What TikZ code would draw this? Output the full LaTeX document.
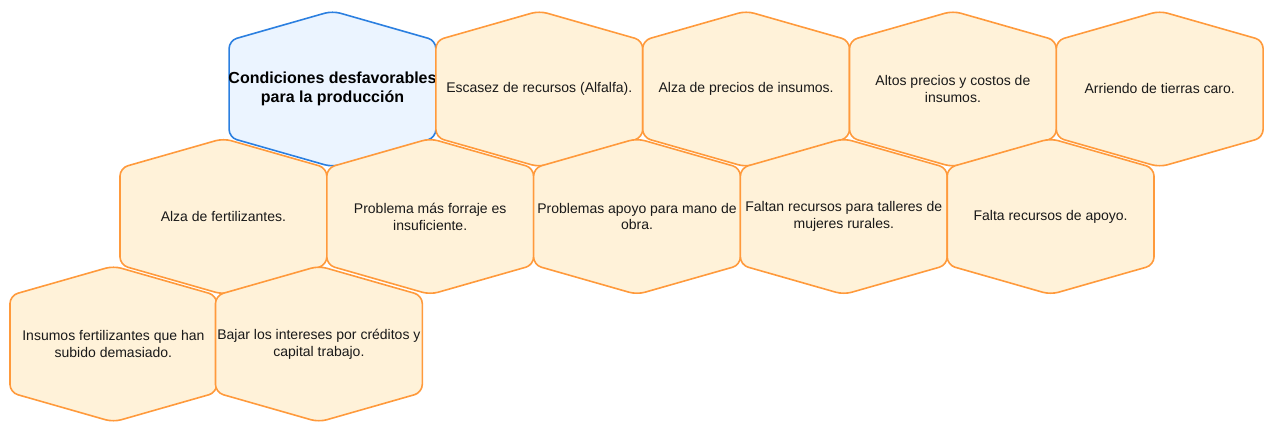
\documentclass[tikz,border=0pt]{standalone}
\usepackage{fontspec}
\setmainfont{Liberation Sans}

\definecolor{hexfill}{HTML}{FFF2D9}
\definecolor{hexline}{HTML}{FF9A3C}
\definecolor{titlefill}{HTML}{EBF4FF}
\definecolor{titleline}{HTML}{2B7FE0}

\tikzset{
  hexcell/.style={draw=hexline, fill=hexfill, line width=1.2pt, rounded corners=6pt},
  hexblue/.style={draw=titleline, fill=titlefill, line width=1.2pt, rounded corners=6pt},
  hextext/.style={align=center, inner sep=0pt, text=black!90, font=\fontsize{10.5}{12.75}\selectfont},
  hextitle/.style={align=center, inner sep=0pt, text=black, font=\bfseries\fontsize{12}{14.4}\selectfont}
}

% hexagon with a point up and down, centre (#1,#2)
\newcommand{\hexat}[3]{%
  \draw[#3] (#1,#2-78) -- (#1+103.4,#2-48.5) -- (#1+103.4,#2+48.5) -- (#1,#2+78)
    -- (#1-103.4,#2+48.5) -- (#1-103.4,#2-48.5) -- cycle;}

\begin{document}
\begin{tikzpicture}[x=0.75pt, y=-0.75pt]
    \useasboundingbox (0,0) rectangle (1265,423);

    % top row
    \hexat{332.5}{89}{hexblue}
    \node[hextitle] (cond) at (332.5,89) {Condiciones desfavorables\\para la producción};
    \foreach \i/\nm/\txt in {1/escasez/{Escasez de recursos (Alfalfa).},
        2/precios/{Alza de precios de insumos.},
        3/altos/{Altos precios y costos de\\insumos.},
        4/arriendo/{Arriendo de tierras caro.}} {
        \pgfmathsetmacro{\cx}{332.5+206.8*\i}
        \hexat{\cx}{89}{hexcell}
        \node[hextext] (\nm) at (\cx,89) {\txt};
    }

    % middle row
    \foreach \i/\nm/\txt in {0/fertil/{Alza de fertilizantes.},
        1/forraje/{Problema más forraje es\\insuficiente.},
        2/manoobra/{Problemas apoyo para mano de\\obra.},
        3/talleres/{Faltan recursos para talleres de\\mujeres rurales.},
        4/apoyo/{Falta recursos de apoyo.}} {
        \pgfmathsetmacro{\cx}{223.4+206.8*\i}
        \hexat{\cx}{216.5}{hexcell}
        \node[hextext] (\nm) at (\cx,216.5) {\txt};
    }

    % bottom row
    \foreach \i/\nm/\txt in {0/insumos/{Insumos fertilizantes que han\\subido demasiado.},
        1/intereses/{Bajar los intereses por créditos y\\capital trabajo.}} {
        \pgfmathsetmacro{\cx}{113.4+205.5*\i}
        \hexat{\cx}{344}{hexcell}
        \node[hextext] (\nm) at (\cx,344) {\txt};
    }
\end{tikzpicture}
\end{document}
